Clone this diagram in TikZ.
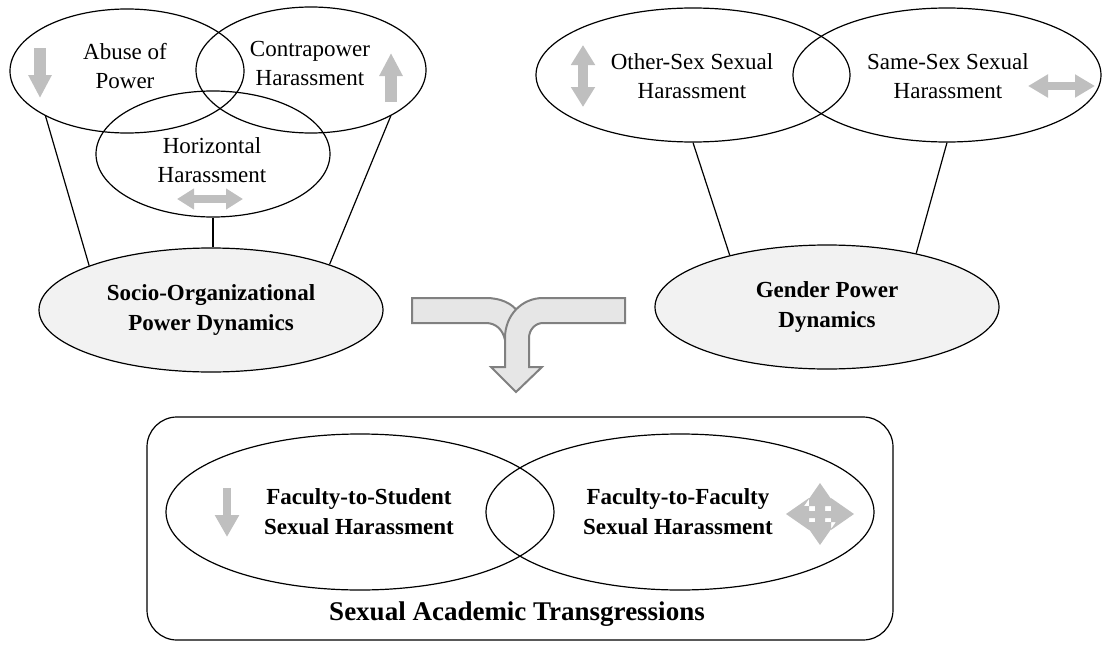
\documentclass[tikz,border=0pt]{standalone}
\usepackage{fontspec}
\setmainfont{Liberation Serif}
\usetikzlibrary{arrows.meta,shapes.geometric,positioning}
\definecolor{arrgray}{RGB}{191,191,191}
\definecolor{ellfill}{RGB}{242,242,242}
\definecolor{mergefill}{RGB}{230,230,230}
\definecolor{mergedraw}{RGB}{128,128,128}
\tikzset{
    every node/.style={
        font=\fontsize{11.5}{14.5}\selectfont
    },
    venn/.style={
        shape=ellipse,
        draw,
        line width=0.6pt,
        inner sep=0pt
    },
    dynamics/.style={
        venn,
        fill=ellfill,
        minimum width=172pt,
        minimum height=62pt
    },
    txt/.style={
        align=center,
        inner sep=0pt
    },
    boldtxt/.style={
        txt,
        font=\fontsize{11.5}{15}\selectfont\bfseries
    },
    connector/.style={line width=0.6pt},
    uniarrow/.style={arrgray, line width=#1},
    biarrow/.style={arrgray, line width=#1}
}
\tikzstyle{frame} = [rectangle, draw, line width=0.6pt, rounded corners=15pt]

\begin{document}
\begin{tikzpicture}[x=0.5pt, y=-0.5pt]
    \useasboundingbox (0,0) rectangle (1103,653);
    % Socio-organizational side
    \node (abuse) at (127,71) [venn, minimum width=117pt, minimum height=62pt] {};
    \node (contra) at (311,70) [venn, minimum width=115pt, minimum height=63pt] {};
    \node (horiz) at (213,154) [venn, minimum width=117pt, minimum height=63pt] {};
    \node (socio) at (211,310) [dynamics] {};
    % Gender side
    \node (other) at (693,75) [venn, minimum width=157pt, minimum height=67pt] {};
    \node (same) at (947,75) [venn, minimum width=154pt, minimum height=67pt] {};
    \node (gender) at (827,307) [dynamics] {};
    % Outcome
    \node (sat) at (520,528.5) [frame, minimum width=373pt, minimum height=111.5pt] {};
    \node (fts) at (360,512) [venn, minimum width=194pt, minimum height=78pt] {};
    \node (ftf) at (680,512) [venn, minimum width=194pt, minimum height=78pt] {};
    % Texts
    \node (abuse-t) at (125,66) [txt] {Abuse of\\Power};
    \node (contra-t) at (310,63) [txt] {Contrapower\\Harassment};
    \node (horiz-t) at (212,160) [txt] {Horizontal\\Harassment};
    \node (socio-t) at (211,310) [boldtxt] {Socio-Organizational\\Power Dynamics};
    \node (other-t) at (692,76) [txt] {Other-Sex Sexual\\Harassment};
    \node (same-t) at (948,76) [txt] {Same-Sex Sexual\\Harassment};
    \node (gender-t) at (827,307) [boldtxt] {Gender Power\\Dynamics};
    \node (fts-t) at (359,512) [boldtxt] {Faculty-to-Student\\Sexual Harassment};
    \node (ftf-t) at (678,512) [boldtxt] {Faculty-to-Faculty\\Sexual Harassment};
    \node (sat-t) at (517,614) [txt, font=\fontsize{13.5}{16}\selectfont\bfseries] {Sexual Academic Transgressions};
    % Connectors
    \draw [connector] (abuse.209) -- (socio.160);
    \draw [connector] (horiz.south) -- (horiz.south |- socio.north);
    \draw [connector] (contra.330) -- (socio.21);
    \draw [connector] (other.south) -- (gender.152);
    \draw [connector] (same.south) -- (gender.31);
    % Direction icons
    \draw [uniarrow=6pt, -{Triangle[length=11.5pt,width=11pt]}] (40,48) -- (40,98);
    \draw [uniarrow=6pt, -{Triangle[length=11.5pt,width=11pt]}] (391,102) -- (391,53);
    \draw [biarrow=4pt, {Triangle[length=8.5pt,width=10pt]}-{Triangle[length=8.5pt,width=10pt]}] (177,199) -- (243,199);
    \draw [biarrow=5pt, {Triangle[length=10pt,width=11.5pt]}-{Triangle[length=10pt,width=11.5pt]}] (583,45) -- (583,107);
    \draw [biarrow=4pt, {Triangle[length=10pt,width=11pt]}-{Triangle[length=10pt,width=11pt]}] (1028,86) -- (1095,86);
    \draw [uniarrow=4pt, -{Triangle[length=11pt,width=11.5pt]}] (227,488) -- (227,537);
    \fill [arrgray] (831,498) -- (854,514) -- (831,530) -- cycle
        (809,498) -- (786,514) -- (809,530) -- cycle
        (804,506) -- (820,483) -- (836,506) -- cycle
        (804,522) -- (820,545) -- (836,522) -- cycle
        (809,511) rectangle (831,518)
        (815,506) rectangle (825,522);
    % Merging arrow
    \filldraw [draw=mergedraw, fill=mergefill, line width=1pt]
        (412,298) -- (486,298) .. controls (500,298) and (512,303) .. (518,312)
        -- (518,340) -- (505,340) .. controls (503,330) and (496,323) .. (486,323)
        -- (412,323) -- cycle;
    \filldraw [draw=mergedraw, fill=mergefill, line width=1pt]
        (625,298) -- (543,298) .. controls (522,298) and (505,315) .. (505,338)
        -- (505,367) -- (491,367) -- (516,392) -- (542,367) -- (529,367)
        -- (529,338) .. controls (529,330) and (535,323) .. (543,323)
        -- (625,323) -- cycle;
\end{tikzpicture}
\end{document}
